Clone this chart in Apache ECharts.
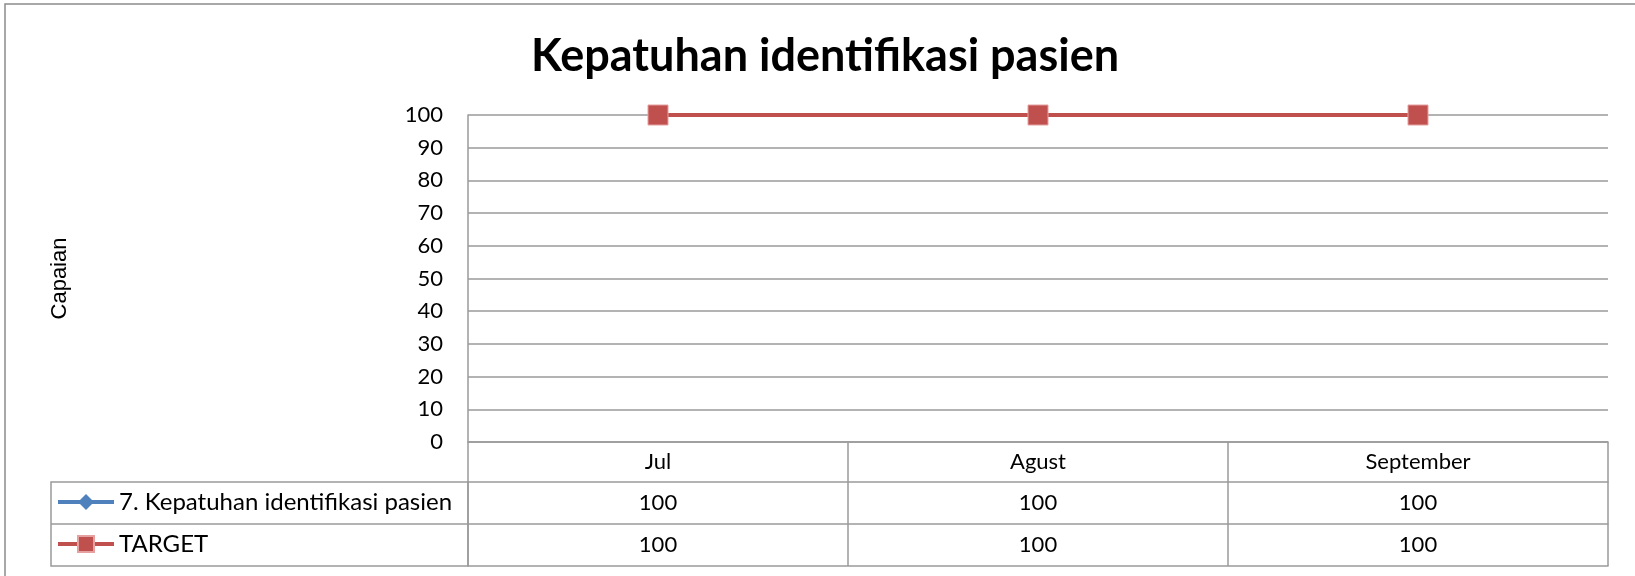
<!DOCTYPE html>
<html>
<head>
<meta charset="utf-8">
<script src="https://cdn.jsdelivr.net/npm/echarts@6/dist/echarts.min.js"></script>
<style>
  html, body { margin: 0; padding: 0; background: #fff; }
  #chart { width: 1635px; height: 576px; }
</style>
</head>
<body>
<div id="chart"></div>
<script>
let months = ['Jul', 'Agust', 'September']
let kepatuhan = [100, 100, 100]
let target = [100, 100, 100]
let yTicks = [0, 100, 10]

let seriesNames = ['7. Kepatuhan identifikasi pasien', 'TARGET']
let gridColor = '#9a9a9a'
let font = 'Lato'

let chart = echarts.init(document.getElementById('chart'))

// baris tabel data di bawah sumbu x
function rowAxis(offset, values) {
  return {
    type: 'category',
    data: months,
    position: 'bottom',
    offset: offset,
    boundaryGap: true,
    axisLine: { show: true, lineStyle: { color: gridColor, width: 1.5 } },
    axisTick: { show: false },
    axisLabel: {
      show: !!values,
      margin: 10,
      color: '#000',
      fontFamily: font,
      fontSize: 22,
      formatter: function(v, i) {
        return values ? String(values[i]) : ''
      }
    }
  }
}

function legendRow(name, top) {
  return {
    data: [name],
    left: 56,
    top: top,
    padding: 0,
    itemWidth: 56,
    itemHeight: 20,
    itemGap: 5,
    lineStyle: { width: 4 },
    textStyle: { fontFamily: font, fontSize: 24, color: '#000' }
  }
}

chart.setOption({
  animation: false,
  title: {
    text: 'Kepatuhan identifikasi pasien',
    left: 526,
    top: 29,
    textStyle: { fontFamily: font, fontWeight: 'bold', fontSize: 45, color: '#000' }
  },
  legend: [
    legendRow(seriesNames[0], 490),
    legendRow(seriesNames[1], 532)
  ],
  grid: { left: 468, right: 27, top: 115, bottom: 134 },
  yAxis: {
    type: 'value',
    min: yTicks[0],
    max: yTicks[1],
    interval: yTicks[2],
    name: 'Capaian',
    nameLocation: 'middle',
    nameRotate: 90,
    nameGap: 397,
    nameTextStyle: { fontFamily: 'Liberation Sans', fontSize: 22, color: '#000' },
    axisLine: { show: true, lineStyle: { color: gridColor, width: 1.5 } },
    axisTick: { show: false },
    axisLabel: { margin: 25, color: '#000', fontFamily: font, fontSize: 22 },
    splitLine: { lineStyle: { color: gridColor, width: 1.5 } }
  },
  xAxis: [
    {
      type: 'category',
      data: months,
      boundaryGap: true,
      axisLine: { show: true, lineStyle: { color: gridColor, width: 1.5 } },
      axisTick: { show: true, interval: 0, length: 124, lineStyle: { color: gridColor, width: 1.5 } },
      axisLabel: { margin: 9, color: '#000', fontFamily: font, fontSize: 22 }
    },
    rowAxis(40, kepatuhan),
    rowAxis(82, target),
    rowAxis(124, null)
  ],
  graphic: [
    {
      type: 'rect',
      shape: { x: 5, y: 4, width: 1700, height: 700 },
      style: { fill: 'none', stroke: '#8c8c8c', lineWidth: 1.5 },
      silent: true
    },
    {
      type: 'rect',
      shape: { x: 51, y: 482, width: 417, height: 84 },
      style: { fill: 'none', stroke: gridColor, lineWidth: 1.5 },
      silent: true
    },
    {
      type: 'line',
      shape: { x1: 51, y1: 524, x2: 468, y2: 524 },
      style: { stroke: gridColor, lineWidth: 1.5 },
      silent: true
    }
  ],
  series: [
    {
      name: seriesNames[0],
      type: 'line',
      data: kepatuhan,
      clip: false,
      symbol: 'diamond',
      symbolSize: [14, 17],
      color: '#4F81BD',
      lineStyle: { width: 4, color: '#4F81BD' },
      itemStyle: { color: '#4F81BD' }
    },
    {
      name: seriesNames[1],
      type: 'line',
      data: target,
      clip: false,
      symbol: 'rect',
      symbolSize: 20,
      color: '#C0504D',
      lineStyle: { width: 4, color: '#C0504D' },
      itemStyle: { color: '#C0504D', borderColor: '#e5a0a0', borderWidth: 1 }
    }
  ]
})
</script>
</body>
</html>
